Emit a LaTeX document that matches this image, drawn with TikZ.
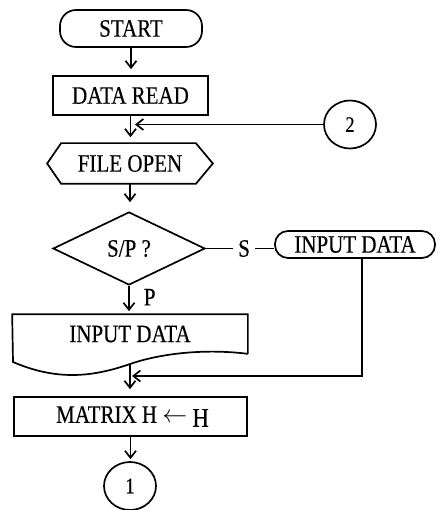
\documentclass[tikz,border=0pt]{standalone}
\usepackage{fontspec}
\setmainfont{Liberation Serif}[FakeStretch=0.84,FakeBold=0.3]
\usetikzlibrary{arrows.meta,shapes.geometric,calc}

\begin{document}
\begin{tikzpicture}[x=1pt,y=-1pt,
  line width=1.7pt,
  every node/.style={font=\fontsize{25}{27}\selectfont, inner sep=0pt},
  arr/.style={-{Straight Barb[length=7pt,width=11pt]}, shorten >=6pt},
  boxnode/.style={draw, rectangle},
  termnode/.style={draw, rectangle},
  connector/.style={draw, ellipse, minimum width=52pt, minimum height=48pt, font=\fontsize{22}{24}\selectfont}
]
\useasboundingbox (0,0) rectangle (437,510);

% --- shapes ---
\node[termnode, rounded corners=16pt, minimum width=142pt, minimum height=37pt] (start) at (131,28.5) {START};
\node[boxnode, minimum width=155pt, minimum height=39pt] (read) at (130.5,95.5) {DATA READ};
\coordinate (j1) at (131,124.5);
\node[connector] (c2) at (350,124.5) {2};

\node[minimum width=164pt, minimum height=39pt] (open) at (130,163.5) {FILE OPEN};
\draw (open.west) -- ([xshift=14pt]open.north west) -- ([xshift=-17pt]open.north east)
  -- (open.east) -- ([xshift=-17pt]open.south east) -- ([xshift=14pt]open.south west) -- cycle;

\node[draw, diamond, minimum width=152pt, minimum height=73pt] (dia) at (129,248.5) {S/P ?};
\node[termnode, rounded corners=13pt, minimum width=160pt, minimum height=27pt] (in2) at (355,244.5) {INPUT DATA};

% document symbol
\node[minimum width=234pt, minimum height=38pt] (doc) at (130,334) {INPUT DATA};
\draw (doc.south east) -- (doc.north east) -- (doc.north west) -- (13,362)
  .. controls (55,380) and (90,378) .. (130,364)
  .. controls (165,352) and (210,349) .. (doc.south east);
\coordinate (wv) at (130,364);
\coordinate (j2) at (130,376);

\node[boxnode, minimum width=233pt, minimum height=39pt] (mat) at (130.5,416.5)
  {\hspace{4pt}MATRIX H $\leftarrow$ \raisebox{-4pt}{\fontsize{27}{29}\selectfont H}};
\node[connector] (c1) at (130,486) {1};

% --- connectors ---
\draw[arr] (start) -- (start |- read.north);
\draw[arr] (read.south) -- (read.south |- open.north);
\draw[arr, shorten >=4pt] (c2) -- (j1);
\draw[arr, shorten >=9pt] (open.south) -- (open.south |- dia.north);
\draw (dia.east) -- node[pos=0.56, fill=white, inner xsep=5pt] {S} (dia.east -| in2.west);
\draw[arr, shorten >=3pt] (dia.south) -- node[pos=0.4, anchor=west, xshift=14pt] {P} (dia.south |- doc.north);
\draw[arr, shorten >=2pt] ([xshift=7pt]in2.south) |- (j2);
\draw[arr, shorten >=7pt] (wv) -- (wv |- mat.north);
\draw[arr, shorten >=2pt] (mat.south) -- (mat.south |- c1.north);
\end{tikzpicture}
\end{document}
